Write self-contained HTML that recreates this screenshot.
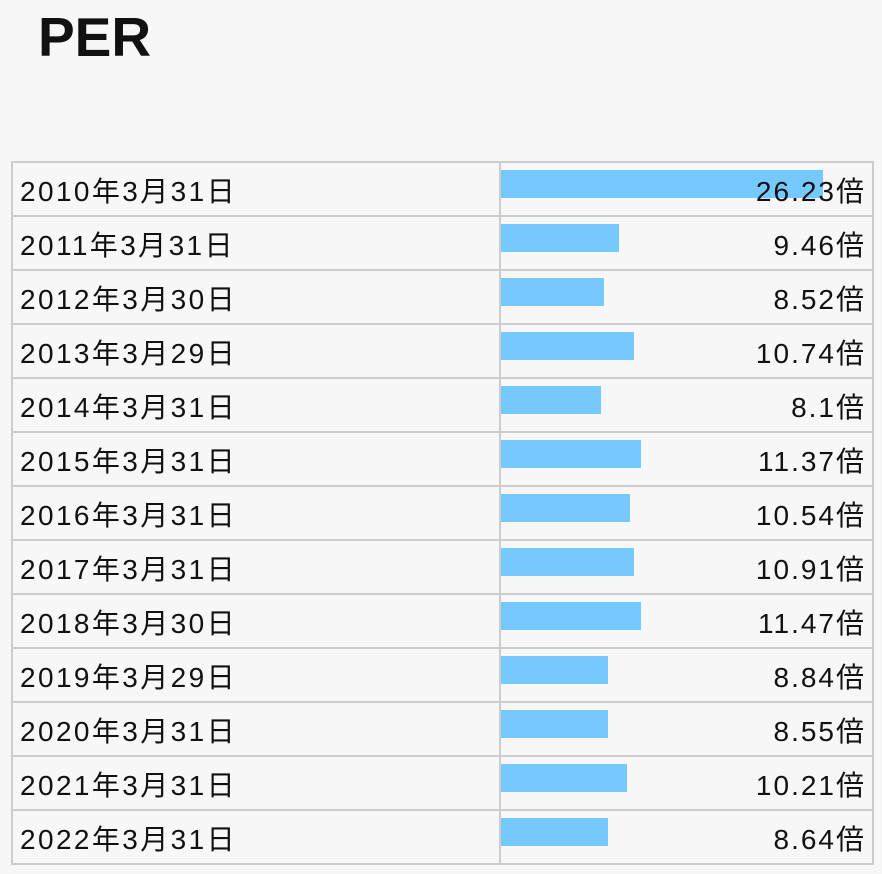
<!DOCTYPE html>
<html><head><meta charset="utf-8"><style>
body{margin:0;background:#f7f7f7;width:882px;height:874px;overflow:hidden;font-family:"Liberation Sans","Noto Sans CJK JP",sans-serif;color:#111;position:relative}
h1{position:absolute;left:38px;top:5px;margin:0;font-size:55px;font-weight:bold;letter-spacing:0px}
.tbl{position:absolute;left:11px;top:161px;width:859px;border:2px solid #ccc;border-bottom:none}
.row{position:relative;height:52px;border-bottom:2px solid #ccc}
.d{position:absolute;left:7px;top:11px;font-size:28px;line-height:36px;letter-spacing:2.4px}
.v{position:absolute;right:6px;top:11px;font-size:28px;line-height:36px;letter-spacing:2px}
.div{position:absolute;left:486px;top:0;bottom:0;width:2px;background:#ccc}
.b{position:absolute;left:488px;top:7px;height:28px;background:#76c9fe}
</style></head><body>
<h1>PER</h1>
<div class="tbl">
<div class="row"><div class="div"></div><div class="b" style="width:322px"></div><div class="d">2010年3月31日</div><div class="v">26.23倍</div></div>
<div class="row"><div class="div"></div><div class="b" style="width:118px"></div><div class="d">2011年3月31日</div><div class="v">9.46倍</div></div>
<div class="row"><div class="div"></div><div class="b" style="width:103px"></div><div class="d">2012年3月30日</div><div class="v">8.52倍</div></div>
<div class="row"><div class="div"></div><div class="b" style="width:133px"></div><div class="d">2013年3月29日</div><div class="v">10.74倍</div></div>
<div class="row"><div class="div"></div><div class="b" style="width:100px"></div><div class="d">2014年3月31日</div><div class="v">8.1倍</div></div>
<div class="row"><div class="div"></div><div class="b" style="width:140px"></div><div class="d">2015年3月31日</div><div class="v">11.37倍</div></div>
<div class="row"><div class="div"></div><div class="b" style="width:129px"></div><div class="d">2016年3月31日</div><div class="v">10.54倍</div></div>
<div class="row"><div class="div"></div><div class="b" style="width:133px"></div><div class="d">2017年3月31日</div><div class="v">10.91倍</div></div>
<div class="row"><div class="div"></div><div class="b" style="width:140px"></div><div class="d">2018年3月30日</div><div class="v">11.47倍</div></div>
<div class="row"><div class="div"></div><div class="b" style="width:107px"></div><div class="d">2019年3月29日</div><div class="v">8.84倍</div></div>
<div class="row"><div class="div"></div><div class="b" style="width:107px"></div><div class="d">2020年3月31日</div><div class="v">8.55倍</div></div>
<div class="row"><div class="div"></div><div class="b" style="width:126px"></div><div class="d">2021年3月31日</div><div class="v">10.21倍</div></div>
<div class="row"><div class="div"></div><div class="b" style="width:107px"></div><div class="d">2022年3月31日</div><div class="v">8.64倍</div></div>
</div>
</body></html>
